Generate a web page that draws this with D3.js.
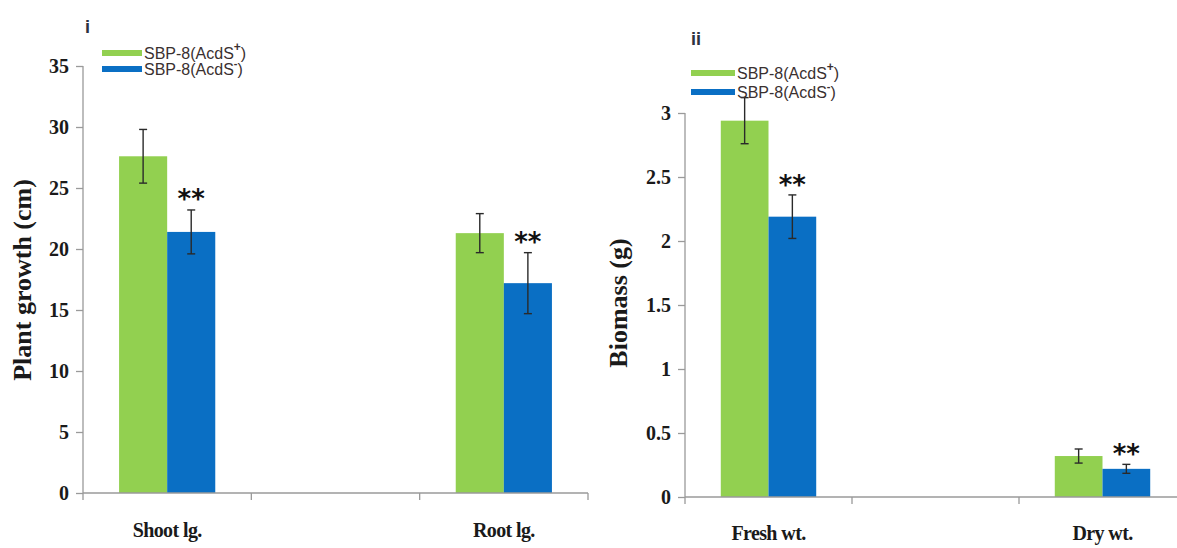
<!DOCTYPE html>
<html>
<head>
<meta charset="utf-8">
<script src="https://cdn.jsdelivr.net/npm/d3@7/dist/d3.min.js"></script>
<style>
  html, body { margin: 0; padding: 0; background: #fff; }
  svg { display: block; }
  .tick-label { font-family: "Liberation Serif", "Times New Roman", serif; font-weight: bold; font-size: 20px; fill: #1a1a1a; }
  .cat-label { font-family: "Liberation Serif", "Times New Roman", serif; font-weight: bold; font-size: 20px; fill: #1a1a1a; letter-spacing: -0.6px; }
  .y-title { font-family: "Liberation Serif", "Times New Roman", serif; font-weight: bold; font-size: 26px; fill: #1a1a1a; }
  .legend-text { font-family: "Liberation Sans", Arial, sans-serif; font-size: 16px; fill: #3a3030; }
  .panel-id { font-family: "Liberation Sans", Arial, sans-serif; font-weight: bold; font-size: 18px; fill: #2b3340; }
  .sig { font-family: "DejaVu Sans", sans-serif; font-weight: bold; font-size: 26px; fill: #111; }
</style>
</head>
<body>
<svg id="chart" width="1177" height="548"></svg>
<script>
// Series shown in both panels
const seriesNames = ["SBP-8(AcdS+)", "SBP-8(AcdS-)"];
const seriesKeys = ["plus", "minus"];
const seriesColors = ["#92d050", "#0a6fc4"];

// Panel i: plant growth (cm); the middle slot is an empty category
const growthSlots = ["Shoot lg.", " ", "Root lg."];
const growthCategories = ["Shoot lg.", "Root lg."];
const growthPlus = [27.6, 21.3];
const growthPlusErr = [2.2, 1.6];
const growthMinus = [21.4, 17.2];
const growthMinusErr = [1.8, 2.5];
const growthSignificant = [true, true];
const growthTicks = [0, 5, 10, 15, 20, 25, 30, 35];

// Panel ii: biomass (g)
const biomassSlots = ["Fresh wt.", " ", "Dry wt."];
const biomassCategories = ["Fresh wt.", "Dry wt."];
const biomassPlus = [2.94, 0.32];
const biomassPlusErr = [0.18, 0.055];
const biomassMinus = [2.19, 0.22];
const biomassMinusErr = [0.17, 0.035];
const biomassSignificant = [true, true];
const biomassTicks = [0, 0.5, 1, 1.5, 2, 2.5, 3];

const svg = d3.select("#chart");

function drawPanel(cfg) {
  const g = svg.append("g");

  const x = d3.scaleBand().domain(cfg.slots).range([cfg.x0, cfg.x1]).padding(0);
  const xInner = d3.scaleBand().domain(seriesKeys).range([0, x.bandwidth()])
    .paddingInner(0).paddingOuter(0.75);
  const y = d3.scaleLinear().domain([0, cfg.yMax]).range([cfg.yBase, cfg.yTop]);

  const rows = cfg.categories.map((c, i) => ({
    cat: c,
    plus: cfg.plus[i], plusErr: cfg.plusErr[i],
    minus: cfg.minus[i], minusErr: cfg.minusErr[i],
    sig: cfg.sig[i]
  }));

  // Bars
  const groups = g.selectAll(".grp").data(rows).enter().append("g")
    .attr("transform", d => `translate(${x(d.cat)},0)`);

  seriesKeys.forEach((k, si) => {
    groups.append("rect")
      .attr("x", xInner(k))
      .attr("width", xInner.bandwidth())
      .attr("y", d => y(d[k]))
      .attr("height", d => y(0) - y(d[k]))
      .attr("fill", seriesColors[si]);
  });

  // Error bars
  seriesKeys.forEach(k => {
    const cx = xInner(k) + xInner.bandwidth() / 2;
    groups.append("line")
      .attr("x1", cx).attr("x2", cx)
      .attr("y1", d => y(d[k] + d[k + "Err"]))
      .attr("y2", d => y(d[k] - d[k + "Err"]))
      .attr("stroke", "#2a2a2a").attr("stroke-width", 1.4);
    [1, -1].forEach(s => {
      groups.append("line")
        .attr("x1", cx - 4).attr("x2", cx + 4)
        .attr("y1", d => y(d[k] + s * d[k + "Err"]))
        .attr("y2", d => y(d[k] + s * d[k + "Err"]))
        .attr("stroke", "#2a2a2a").attr("stroke-width", 1.4);
    });
  });

  // Significance marks over the second series
  groups.filter(d => d.sig).append("text")
    .attr("class", "sig")
    .attr("text-anchor", "middle")
    .attr("x", xInner("minus") + xInner.bandwidth() / 2)
    .attr("y", d => y(d.minus + d.minusErr) + cfg.sigDy)
    .text("**");

  // Y axis
  const yAxis = d3.axisLeft(y).tickValues(cfg.ticks).tickSize(7).tickPadding(7)
    .tickFormat(d3.format("~g"));
  const ya = g.append("g").attr("transform", `translate(${cfg.x0},0)`).call(yAxis);
  ya.select(".domain").attr("stroke", "#9a9a9a").attr("stroke-width", 1.3)
    .attr("d", `M0,${y(cfg.yMax)}V${y(0)}`);
  ya.selectAll(".tick line").attr("stroke", "#9a9a9a").attr("stroke-width", 1.3);
  ya.selectAll(".tick text").attr("class", "tick-label").attr("font-size", null)
    .attr("font-family", null).attr("fill", null);

  // X axis: ticks at category boundaries
  const xa = g.append("g").attr("transform", `translate(0,${y(0)})`);
  xa.append("line").attr("x1", cfg.x0).attr("x2", cfg.x1)
    .attr("stroke", "#9a9a9a").attr("stroke-width", 1.3);
  const bounds = cfg.slots.map(s => x(s)).concat([x.range()[1]]);
  xa.selectAll(".xt").data(bounds).enter().append("line")
    .attr("x1", d => d).attr("x2", d => d).attr("y1", 0).attr("y2", 7)
    .attr("stroke", "#9a9a9a").attr("stroke-width", 1.3);
  xa.selectAll(".cl").data(cfg.categories).enter().append("text")
    .attr("class", "cat-label").attr("text-anchor", "middle")
    .attr("x", d => x(d) + x.bandwidth() / 2)
    .attr("y", cfg.catY - y(0))
    .text(d => d);

  // Y title
  g.append("text").attr("class", "y-title")
    .attr("transform", `translate(${cfg.titleX},${cfg.titleY}) rotate(-90)`)
    .attr("text-anchor", "middle").attr("dominant-baseline", "central")
    .text(cfg.title);

  // Panel id
  g.append("text").attr("class", "panel-id")
    .attr("x", cfg.idX).attr("y", cfg.idY).text(cfg.id);

  // Legend
  const lg = g.append("g").attr("transform", `translate(${cfg.legX},${cfg.legY})`);
  seriesNames.forEach((name, i) => {
    const row = lg.append("g").attr("transform", `translate(0,${i * cfg.legStep})`);
    row.append("line").attr("x1", 0).attr("x2", cfg.legLen).attr("y1", 0).attr("y2", 0)
      .attr("stroke", seriesColors[i]).attr("stroke-width", 6);
    const t = row.append("text").attr("class", "legend-text")
      .attr("x", cfg.legLen + 2).attr("y", 6);
    const base = name.slice(0, name.length - 2);
    const sign = name.charAt(name.length - 2);
    t.append("tspan").text(base);
    t.append("tspan").attr("dy", -8).attr("font-size", sign === "-" ? 11 : 12)
      .attr("font-weight", "bold").text(sign);
    t.append("tspan").attr("dy", 8).text(")");
  });
}

drawPanel({
  slots: growthSlots, categories: growthCategories,
  plus: growthPlus, plusErr: growthPlusErr, minus: growthMinus, minusErr: growthMinusErr,
  sig: growthSignificant, ticks: growthTicks, yMax: 35,
  x0: 83, x1: 588, yBase: 493, yTop: 66,
  catY: 537, sigDy: -2,
  title: "Plant growth (cm)", titleX: 22, titleY: 280,
  id: "i", idX: 85, idY: 33,
  legX: 102, legY: 53, legStep: 16, legLen: 40
});

drawPanel({
  slots: biomassSlots, categories: biomassCategories,
  plus: biomassPlus, plusErr: biomassPlusErr, minus: biomassMinus, minusErr: biomassMinusErr,
  sig: biomassSignificant, ticks: biomassTicks, yMax: 3,
  x0: 685, x1: 1186, yBase: 497, yTop: 113,
  catY: 540, sigDy: -1,
  title: "Biomass (g)", titleX: 618, titleY: 303,
  id: "ii", idX: 691, idY: 45,
  legX: 691, legY: 73, legStep: 19, legLen: 44
});
</script>
</body>
</html>
